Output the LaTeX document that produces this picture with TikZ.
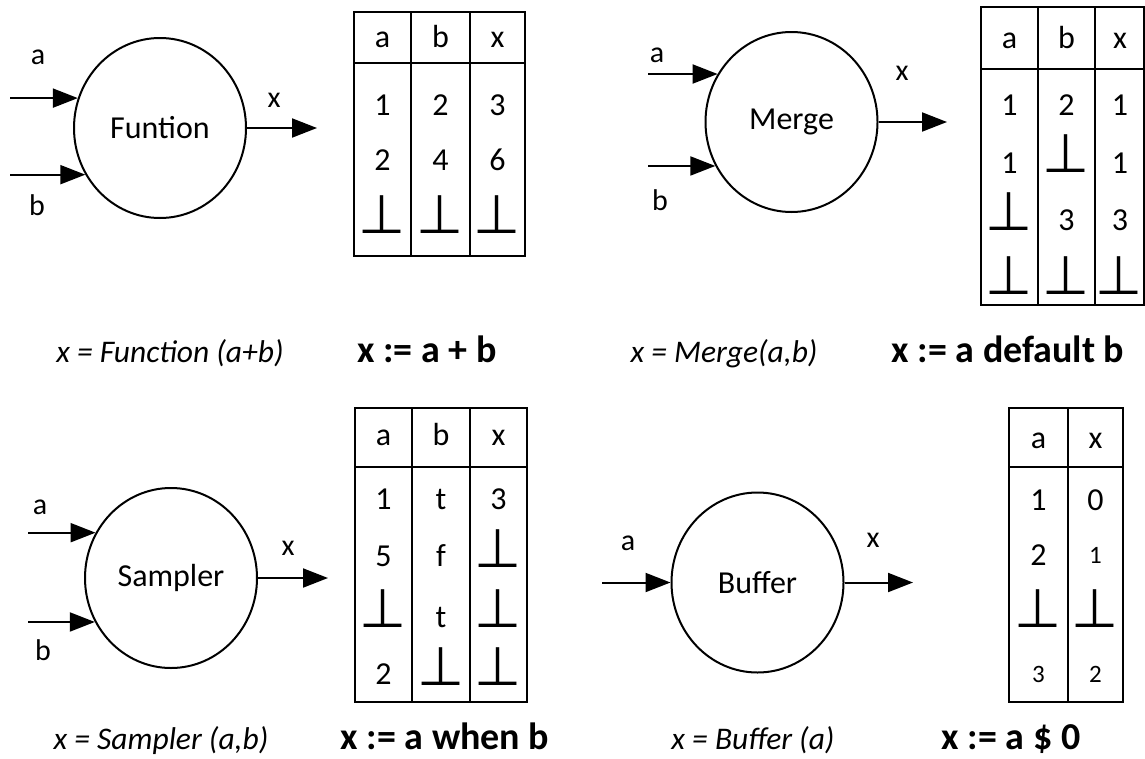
\documentclass[tikz,border=0pt]{standalone}
\usepackage{fontspec}
\setmainfont{Carlito}
\newfontfamily\symfont{DejaVu Sans}
\usetikzlibrary{arrows.meta,shapes.geometric}
\newcommand{\bt}{{\symfont\fontsize{54}{54}\selectfont ⊥}}
\begin{document}
\begin{tikzpicture}[x=1pt,y=-1pt,
  every node/.style={inner sep=0pt},
  proc/.style={draw, line width=2pt, ellipse, minimum width=172pt, minimum height=180pt, font=\fontsize{32}{32}\selectfont},
  arr/.style={line width=2pt, -{Triangle[length=25pt,width=19pt]}},
  lbl/.style={font=\fontsize{30}{30}\selectfont},
  cell/.style={anchor=base, font=\fontsize{32}{32}\selectfont},
  smallcell/.style={anchor=base, font=\fontsize{25}{25}\selectfont},
  tbl/.style={line width=2pt},
  capt/.style={anchor=base, font=\fontsize{31.5}{32}\selectfont\itshape},
  codetxt/.style={anchor=base, font=\fontsize{38}{38}\selectfont\bfseries}]
\useasboundingbox (0,0) rectangle (1145,758);
\fill[white] (0,0) rectangle (1145,758);

% ---------- Q1: Function ----------
\node[proc] (fn) at (160,128) {Funtion};
\coordinate (fna) at (fn.160 -| 10,0);
\coordinate (fnb) at (fn.212 -| 10,0);
\coordinate (fnx) at (fn.east -| 317,0);
\draw[arr] (fna) -- (fn.160);
\draw[arr] (fnb) -- (fn.212);
\draw[arr] (fn.east) -- (fnx);
\node[lbl] (fnla) at (38,57) {a};
\node[lbl] (fnlb) at (37,205) {b};
\node[lbl] (fnlx) at (274,100) {x};

\draw[tbl] (354,12) rectangle (525,256);
\draw[tbl] (411,12) -- (411,256) (470,12) -- (470,256) (354,63) -- (525,63);
\node[cell] (t1h1) at (382.5,47) {a};
\node[cell] (t1h2) at (440.5,47) {b};
\node[cell] (t1h3) at (497.5,47) {x};
\node[cell] (t1a1) at (382.5,115) {1};
\node[cell] (t1b1) at (440.5,115) {2};
\node[cell] (t1c1) at (497.5,115) {3};
\node[cell] (t1a2) at (382.5,170) {2};
\node[cell] (t1b2) at (440.5,170) {4};
\node[cell] (t1c2) at (497.5,170) {6};
\node[cell] (t1a3) at (382.5,233) {\bt};
\node[cell] (t1b3) at (440.5,233) {\bt};
\node[cell] (t1c3) at (497.5,233) {\bt};

\node[capt] (cap1) at (170,362) {x = Function (a+b)};
\node[codetxt] (code1) at (427,362) {x := a + b};

% ---------- Q2: Merge ----------
\node[proc] (mg) at (791.5,122) {Merge};
\coordinate (mga) at (mg.147 -| 648,0);
\coordinate (mgb) at (mg.210 -| 648,0);
\coordinate (mgx) at (mg.east -| 947,0);
\draw[arr] (mga) -- (mg.147);
\draw[arr] (mgb) -- (mg.210);
\draw[arr] (mg.east) -- (mgx);
\node[lbl] (mgla) at (657,55) {a};
\node[lbl] (mglb) at (660,200) {b};
\node[lbl] (mglx) at (902,73) {x};

\draw[tbl] (981,7) rectangle (1144,305);
\draw[tbl] (1038,7) -- (1038,305) (1095,7) -- (1095,305) (981,69) -- (1144,69);
\node[cell] (t2h1) at (1009.5,48) {a};
\node[cell] (t2h2) at (1066.5,48) {b};
\node[cell] (t2h3) at (1120,48) {x};
\node[cell] (t2a1) at (1009.5,115) {1};
\node[cell] (t2b1) at (1066.5,115) {2};
\node[cell] (t2c1) at (1120,115) {1};
\node[cell] (t2a2) at (1009.5,173) {1};
\node[cell] (t2b2) at (1066.5,172) {\bt};
\node[cell] (t2c2) at (1120,173) {1};
\node[cell] (t2a3) at (1009.5,230) {\bt};
\node[cell] (t2b3) at (1066.5,230) {3};
\node[cell] (t2c3) at (1120,230) {3};
\node[cell] (t2a4) at (1009.5,294) {\bt};
\node[cell] (t2b4) at (1066.5,294) {\bt};
\node[cell] (t2c4) at (1119,294) {\bt};

\node[capt] (cap2) at (724,362) {x = Merge(a,b)};
\node[codetxt] (code2) at (1008,362) {x := a default b};

% ---------- Q3: Sampler ----------
\node[proc] (sp) at (171,578) {Sampler};
\coordinate (spa) at (sp.149 -| 28,0);
\coordinate (spb) at (sp.210.5 -| 28,0);
\coordinate (spx) at (sp.east -| 328,0);
\draw[arr] (spa) -- (sp.149);
\draw[arr] (spb) -- (sp.210.5);
\draw[arr] (sp.east) -- (spx);
\node[lbl] (spla) at (40,507) {a};
\node[lbl] (splb) at (43,650) {b};
\node[lbl] (splx) at (288,548) {x};

\draw[tbl] (355,408) rectangle (527,702);
\draw[tbl] (412,408) -- (412,702) (470,408) -- (470,702) (355,467) -- (527,467);
\node[cell] (t3h1) at (383.5,445) {a};
\node[cell] (t3h2) at (441,445) {b};
\node[cell] (t3h3) at (498.5,445) {x};
\node[cell] (t3a1) at (383.5,509) {1};
\node[cell] (t3b1) at (441,509) {t};
\node[cell] (t3c1) at (498.5,509) {3};
\node[cell] (t3a2) at (383.5,566) {5};
\node[cell] (t3b2) at (441,566) {f};
\node[cell] (t3c2) at (498.5,567) {\bt};
\node[cell] (t3a3) at (383.5,627) {\bt};
\node[cell] (t3b3) at (441,627) {t};
\node[cell] (t3c3) at (498.5,627) {\bt};
\node[cell] (t3a4) at (383.5,684) {2};
\node[cell] (t3b4) at (441,685) {\bt};
\node[cell] (t3c4) at (498.5,685) {\bt};

\node[capt] (cap3) at (161,749) {x = Sampler (a,b)};
\node[codetxt] (code3) at (445,749) {x := a when b};

% ---------- Q4: Buffer ----------
\node[proc] (bf) at (757.5,582.5) {Buffer};
\coordinate (bfa) at (bf.west -| 602,0);
\coordinate (bfx) at (bf.east -| 913,0);
\draw[arr] (bfa) -- (bf.west);
\draw[arr] (bf.east) -- (bfx);
\node[lbl] (bfla) at (628,543) {a};
\node[lbl] (bflx) at (873,540) {x};

\draw[tbl] (1009,408) rectangle (1123,702);
\draw[tbl] (1068,408) -- (1068,702) (1009,467) -- (1123,467);
\node[cell] (t4h1) at (1038.5,448) {a};
\node[cell] (t4h2) at (1095.5,448) {x};
\node[cell] (t4a1) at (1038.5,510) {1};
\node[cell] (t4b1) at (1095.5,510) {0};
\node[cell] (t4a2) at (1038.5,565) {2};
\node[smallcell] (t4b2) at (1095.5,563) {1};
\node[cell] (t4a3) at (1038.5,627) {\bt};
\node[cell] (t4b3) at (1095.5,627) {\bt};
\node[smallcell] (t4a4) at (1038.5,682) {3};
\node[smallcell] (t4b4) at (1095.5,682) {2};

\node[capt] (cap4) at (753,749) {x = Buffer (a)};
\node[codetxt] (code4) at (1011,749) {x := a \$ 0};
\end{tikzpicture}
\end{document}
